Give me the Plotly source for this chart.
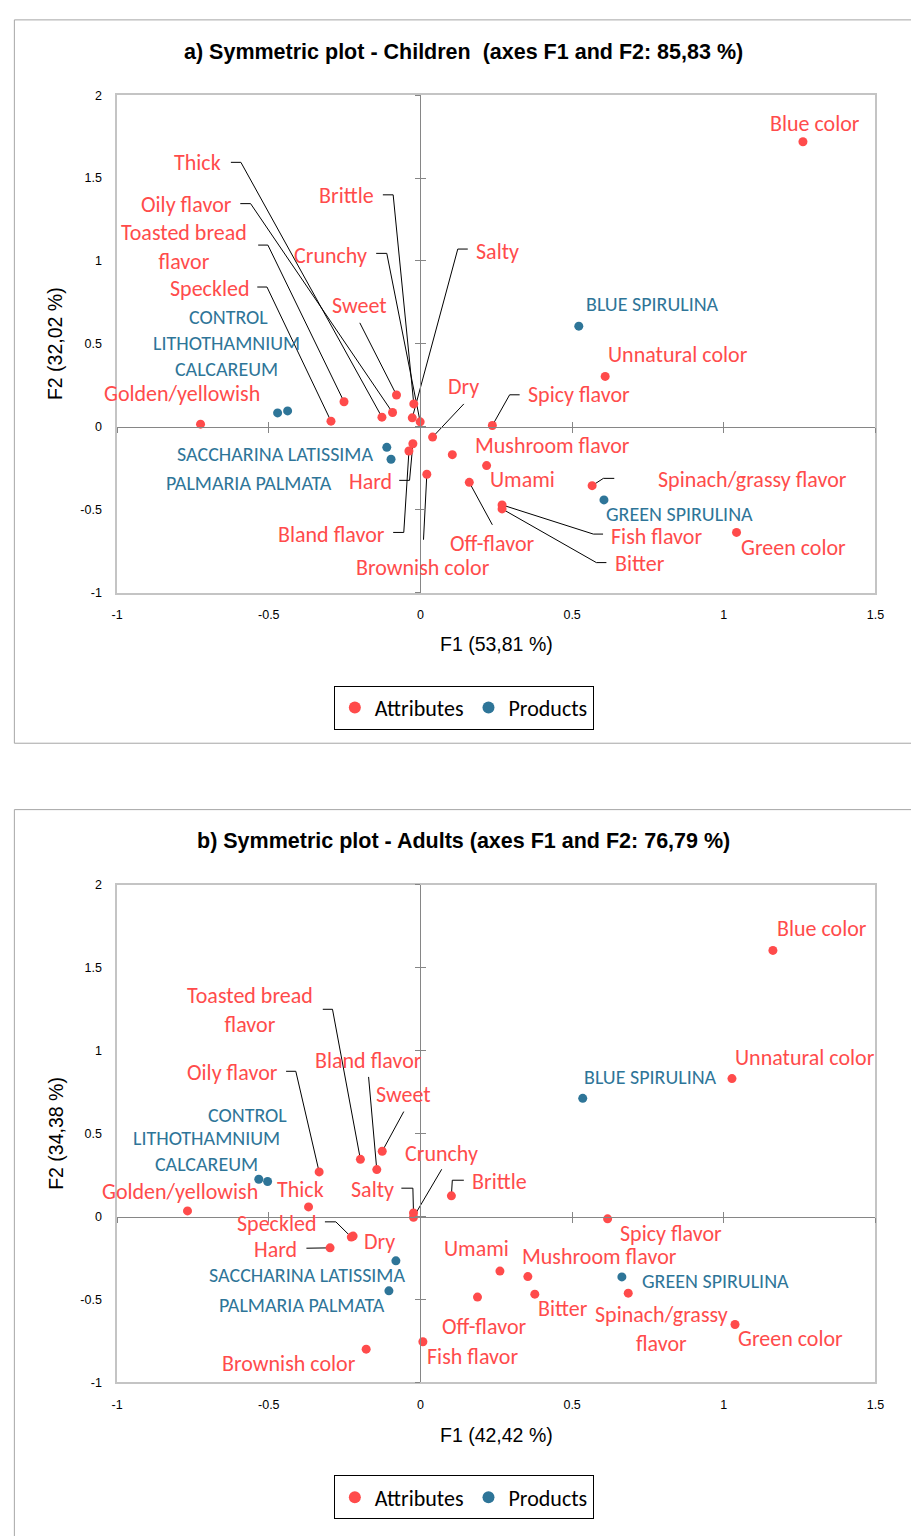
import plotly.graph_objects as go

# ---------------- data ----------------
ATTR = ["Blue color", "Golden/yellowish", "Toasted bread flavor", "Speckled", "Thick",
        "Oily flavor", "Sweet", "Brittle", "Salty", "Crunchy", "Dry", "Hard",
        "Bland flavor", "Brownish color", "Spicy flavor", "Unnatural color",
        "Mushroom flavor", "Umami", "Off-flavor", "Fish flavor", "Bitter",
        "Spinach/grassy flavor", "Green color"]
PROD = ["BLUE SPIRULINA", "GREEN SPIRULINA", "CONTROL", "LITHOTHAMNIUM CALCAREUM",
        "SACCHARINA LATISSIMA", "PALMARIA PALMATA"]

# a) Children
A_ATTR_F1 = [1.261, -0.725, -0.252, -0.295, -0.127, -0.092, -0.079, -0.022, -0.027, -0.001,
             0.040, -0.025, -0.038, 0.021, 0.237, 0.609, 0.105, 0.218, 0.161, 0.269, 0.269,
             0.566, 1.042]
A_ATTR_F2 = [1.719, 0.016, 0.151, 0.034, 0.058, 0.086, 0.192, 0.138, 0.054, 0.030,
             -0.062, -0.102, -0.146, -0.286, 0.008, 0.304, -0.168, -0.234, -0.335, -0.471,
             -0.495, -0.355, -0.637]
A_PROD_F1 = [0.522, 0.605, -0.438, -0.471, -0.111, -0.097]
A_PROD_F2 = [0.607, -0.441, 0.096, 0.084, -0.124, -0.196]

# b) Adults
B_ATTR_F1 = [1.162, -0.768, -0.198, -0.228, -0.369, -0.334, -0.126, 0.102, -0.023, -0.023,
             -0.222, -0.298, -0.144, -0.179, 0.617, 1.027, 0.354, 0.262, 0.188, 0.008, 0.377,
             0.685, 1.037]
B_ATTR_F2 = [1.605, 0.034, 0.345, -0.124, 0.058, 0.269, 0.394, 0.125, 0.022, -0.004,
             -0.118, -0.189, 0.283, -0.800, -0.014, 0.832, -0.362, -0.329, -0.486, -0.755,
             -0.468, -0.462, -0.651]
B_PROD_F1 = [0.535, 0.664, -0.504, -0.533, -0.081, -0.104]
B_PROD_F2 = [0.713, -0.364, 0.211, 0.225, -0.267, -0.448]

TITLE_A = "a) Symmetric plot - Children \u00a0(axes F1 and F2: 85,83 %)"
TITLE_B = "b) Symmetric plot - Adults (axes F1 and F2: 76,79 %)"
XTITLE_A, YTITLE_A = "F1 (53,81 %)", "F2 (32,02 %)"
XTITLE_B, YTITLE_B = "F1 (42,42 %)", "F2 (34,38 %)"

X_TICKS = [-1, -0.5, 0, 0.5, 1, 1.5]
X_TICKTEXT = ["-1", "-0.5", "0", "0.5", "1", "1.5"]
Y_TICKS = [-1, -0.5, 0, 0.5, 1, 1.5, 2]
Y_TICKTEXT = ["-1", "-0.5", "0", "0.5", "1", "1.5", "2"]
X_RANGE = [-1, 1.5]
Y_RANGE = [-1, 2]

# ---------------- label layout (data coords) ----------------
A_ATTR_LX = [1.300, -0.785, -0.778, -0.697, -0.736, -0.772, -0.201, -0.243, 0.253, -0.295,
             0.143, -0.165, -0.292, 0.010, 0.522, 0.850, 0.435, 0.337, 0.237, 0.778, 0.723,
             1.096, 1.229]
A_ATTR_LY = [1.832, 0.198, 1.084, 0.832, 1.593, 1.341, 0.731, 1.395, 1.060, 1.036,
             0.246, -0.329, -0.647, -0.850, 0.192, 0.437, -0.114, -0.317, -0.701, -0.659,
             -0.826, -0.317, -0.725]
A_PROD_LX = [0.765, 0.853, -0.632, -0.639, -0.480, -0.564]
A_PROD_LY = [0.743, -0.527, 0.665, 0.425, -0.162, -0.341]

B_ATTR_LX = [1.323, -0.794, -0.561, -0.473, -0.396, -0.619, -0.055, 0.259, -0.159, 0.071,
             -0.136, -0.477, -0.172, -0.435, 0.827, 1.268, 0.590, 0.185, 0.211, 0.172, 0.470,
             0.794, 1.219]
B_ATTR_LY = [1.738, 0.149, 1.243, -0.042, 0.161, 0.866, 0.735, 0.209, 0.161, 0.382,
             -0.149, -0.197, 0.944, -0.884, -0.102, 0.962, -0.239, -0.191, -0.663, -0.842,
             -0.556, -0.681, -0.735]
B_PROD_LX = [0.759, 0.973, -0.571, -0.704, -0.373, -0.389]
B_PROD_LY = [0.842, -0.388, 0.615, 0.394, -0.352, -0.532]

A_BREAKS = {"Toasted bread flavor": "Toasted bread<br>flavor",
            "LITHOTHAMNIUM CALCAREUM": "LITHOTHAMNIUM<br>CALCAREUM"}
B_BREAKS = {"Toasted bread flavor": "Toasted bread<br>flavor",
            "Spinach/grassy flavor": "Spinach/grassy<br>flavor",
            "LITHOTHAMNIUM CALCAREUM": "LITHOTHAMNIUM<br>CALCAREUM"}

A_LEAD = {
    "Thick": [(-0.625, 1.595), (-0.592, 1.595)],
    "Oily flavor": [(-0.594, 1.346), (-0.560, 1.346)],
    "Toasted bread flavor": [(-0.535, 1.096), (-0.503, 1.096)],
    "Speckled": [(-0.538, 0.843), (-0.506, 0.843)],
    "Brittle": [(-0.124, 1.399), (-0.090, 1.399)],
    "Crunchy": [(-0.146, 1.046), (-0.111, 1.046)],
    "Sweet": [(-0.200, 0.627)],
    "Salty": [(0.156, 1.072), (0.123, 1.072)],
    "Dry": [(0.143, 0.138)],
    "Spicy flavor": [(0.327, 0.193), (0.294, 0.193)],
    "Spinach/grassy flavor": [(0.639, -0.311), (0.603, -0.311)],
    "Fish flavor": [(0.602, -0.647), (0.570, -0.647)],
    "Bitter": [(0.613, -0.819), (0.580, -0.819)],
    "Off-flavor": [(0.237, -0.591)],
    "Brownish color": [(0.010, -0.681)],
    "Bland flavor": [(-0.090, -0.637), (-0.055, -0.637)],
    "Hard": [(-0.070, -0.323), (-0.036, -0.323)],
}
B_LEAD = {
    "Toasted bread flavor": [(-0.322, 1.250), (-0.290, 1.250)],
    "Bland flavor": [(-0.171, 0.842)],
    "Oily flavor": [(-0.443, 0.876), (-0.411, 0.876)],
    "Sweet": [(-0.055, 0.633)],
    "Crunchy": [(0.070, 0.285)],
    "Salty": [(-0.063, 0.171), (-0.025, 0.171)],
    "Brittle": [(0.143, 0.219), (0.105, 0.219)],
    "Speckled": [(-0.315, -0.032), (-0.279, -0.032)],
    "Hard": [(-0.376, -0.191), (-0.338, -0.189)],
}

# ---------------- style / page geometry ----------------
W, H = 911, 1536


def px(x):
    return x / W


def py(y):
    return 1 - y / H


RED = "#FF4B4B"
BLUE = "#2E7598"
LABEL_FONT = "Carlito, Lato, Calibri, sans-serif"
AX_FONT = "Liberation Sans, Arial, sans-serif"
TITLE_FONT = "Liberation Sans Narrow, Arial Narrow, Liberation Sans, Arial, sans-serif"

X_DOM = [px(113), px(884)]
A_YDOM = [py(591), py(89)]
B_YDOM = [py(1388), py(886)]


def zero_pos(dom, rng):
    return dom[0] + (0 - rng[0]) / (rng[1] - rng[0]) * (dom[1] - dom[0])


fig = go.Figure()
annotations = []
layout_axes = {}


def build(idx, ydom, attr_f1, attr_f2, prod_f1, prod_f2, alx, aly, plx, ply,
          breaks, leads, title, xtitle, ytitle, title_y, xt_y, legend_name, legend_y):
    xa = "x" if idx == 1 else "x2"
    ya = "y" if idx == 1 else "y2"
    ox1, ox2 = (3, 4) if idx == 1 else (5, 6)

    # leader lines
    lx, ly = [], []
    for name, pts in leads.items():
        i = ATTR.index(name)
        for (qx, qy) in pts:
            lx.append(qx)
            ly.append(qy)
        lx += [attr_f1[i], None]
        ly += [attr_f2[i], None]
    fig.add_trace(go.Scatter(x=lx, y=ly, mode="lines", xaxis=xa, yaxis=ya,
                             line=dict(color="black", width=1), showlegend=False,
                             hoverinfo="skip"))
    fig.add_trace(go.Scatter(x=attr_f1, y=attr_f2, mode="markers", name="Attributes",
                             text=ATTR, xaxis=xa, yaxis=ya, legend=legend_name,
                             marker=dict(color=RED, size=9)))
    fig.add_trace(go.Scatter(x=prod_f1, y=prod_f2, mode="markers", name="Products",
                             text=PROD, xaxis=xa, yaxis=ya, legend=legend_name,
                             marker=dict(color=BLUE, size=9)))
    # invisible traces to activate overlay axes (zero-line tick marks)
    fig.add_trace(go.Scatter(x=[None], y=[None], xaxis=f"x{ox1}", yaxis=f"y{ox1}",
                             showlegend=False, hoverinfo="skip"))
    fig.add_trace(go.Scatter(x=[None], y=[None], xaxis=f"x{ox2}", yaxis=f"y{ox2}",
                             showlegend=False, hoverinfo="skip"))

    common = dict(showgrid=False, zeroline=False, showline=True, mirror=True,
                  linecolor="#c4c4c4", linewidth=1.5, ticks="", fixedrange=True,
                  tickfont=dict(family=AX_FONT, size=12.5, color="black"))
    xkey = "xaxis" if idx == 1 else "xaxis2"
    ykey = "yaxis" if idx == 1 else "yaxis2"
    layout_axes[xkey] = dict(domain=X_DOM, range=X_RANGE, anchor=ya, tickvals=X_TICKS,
                             ticktext=X_TICKTEXT, ticklabelstandoff=10, **common)
    layout_axes[ykey] = dict(domain=ydom, range=Y_RANGE, anchor=xa, tickvals=Y_TICKS,
                             ticktext=Y_TICKTEXT, ticklabelstandoff=11, **common)

    ypos = zero_pos(ydom, Y_RANGE)
    xpos = zero_pos(X_DOM, X_RANGE)
    for k, tk, line in ((ox1, "outside", True), (ox2, "inside", False)):
        layout_axes[f"xaxis{k}"] = dict(overlaying=xa, anchor="free", position=ypos,
                                        range=X_RANGE, domain=X_DOM, tickvals=X_TICKS,
                                        showticklabels=False, ticks=tk, ticklen=5,
                                        tickcolor="#868686", showline=line,
                                        linecolor="#868686", linewidth=1, showgrid=False,
                                        zeroline=False, fixedrange=True)
        layout_axes[f"yaxis{k}"] = dict(overlaying=ya, anchor="free", position=xpos,
                                        range=Y_RANGE, domain=ydom, tickvals=Y_TICKS,
                                        showticklabels=False, ticks=tk, ticklen=5,
                                        tickcolor="#868686", showline=line,
                                        linecolor="#868686", linewidth=1, showgrid=False,
                                        zeroline=False, fixedrange=True)

    for i, name in enumerate(ATTR):
        annotations.append(dict(x=alx[i], y=aly[i], xref=xa, yref=ya,
                                xanchor="center", yanchor="middle",
                                text=breaks.get(name, name), showarrow=False,
                                font=dict(family=LABEL_FONT, size=22, color=RED)))
    for i, name in enumerate(PROD):
        annotations.append(dict(x=plx[i], y=ply[i], xref=xa, yref=ya,
                                xanchor="center", yanchor="middle",
                                text=breaks.get(name, name), showarrow=False,
                                font=dict(family=LABEL_FONT, size=20, color=BLUE)))

    annotations.append(dict(x=px(465), y=title_y, xref="paper", yref="paper",
                            xanchor="center", yanchor="middle",
                            text=f"<b>{title}</b>", showarrow=False,
                            font=dict(family=TITLE_FONT, size=21.5, color="black")))
    annotations.append(dict(x=px(498.5), y=xt_y, xref="paper", yref="paper",
                            xanchor="center", yanchor="middle",
                            text=xtitle, showarrow=False,
                            font=dict(family=AX_FONT, size=19.5, color="black")))
    annotations.append(dict(x=px(50), y=(ydom[0] + ydom[1]) / 2, xref="paper",
                            yref="paper", xanchor="center", yanchor="middle",
                            text=ytitle, textangle=-90, showarrow=False,
                            font=dict(family=AX_FONT, size=19.5, color="black")))

    layout_axes[legend_name] = dict(x=px(465.5), xanchor="center", y=legend_y,
                                    yanchor="top", orientation="h",
                                    bordercolor="black", borderwidth=1, bgcolor="white",
                                    font=dict(family=LABEL_FONT, size=22, color="black"),
                                    itemsizing="constant")


build(1, A_YDOM, A_ATTR_F1, A_ATTR_F2, A_PROD_F1, A_PROD_F2, A_ATTR_LX, A_ATTR_LY,
      A_PROD_LX, A_PROD_LY, A_BREAKS, A_LEAD, TITLE_A, XTITLE_A, YTITLE_A,
      py(45), py(643), "legend", py(685))
build(2, B_YDOM, B_ATTR_F1, B_ATTR_F2, B_PROD_F1, B_PROD_F2, B_ATTR_LX, B_ATTR_LY,
      B_PROD_LX, B_PROD_LY, B_BREAKS, B_LEAD, TITLE_B, XTITLE_B, YTITLE_B,
      py(842), py(1441), "legend2", py(1482))

shapes = [
    dict(type="rect", xref="paper", yref="paper", x0=px(8.5), x1=1.05,
         y0=py(743), y1=py(13), line=dict(color="#a6a6a6", width=1)),
    dict(type="rect", xref="paper", yref="paper", x0=px(8.5), x1=1.05,
         y0=-0.05, y1=py(810), line=dict(color="#a6a6a6", width=1)),
]

fig.update_layout(width=W, height=H, margin=dict(l=0, r=0, t=0, b=0),
                  paper_bgcolor="white", plot_bgcolor="white",
                  annotations=annotations, shapes=shapes, hovermode="closest",
                  **layout_axes)

fig.write_html("out.html")
